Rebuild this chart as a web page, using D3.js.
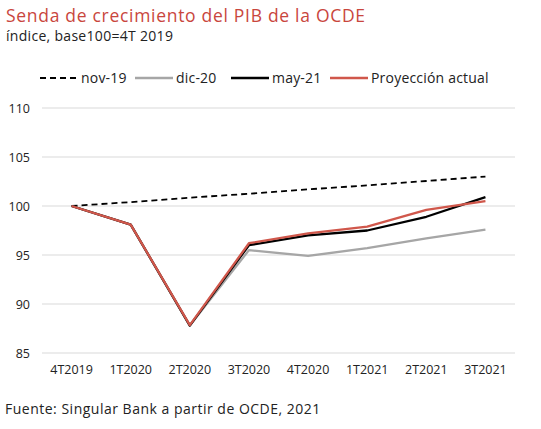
<!DOCTYPE html>
<html><head><meta charset="utf-8">
<script src="https://cdn.jsdelivr.net/npm/d3@7"></script>
<style>body{margin:0;background:#fff;} text{font-family:"Open Sans",sans-serif;}</style>
</head><body>
<svg id="c" width="541" height="429"></svg>
<script>
const categories = ["4T2019","1T2020","2T2020","3T2020","4T2020","1T2021","2T2021","3T2021"];
const nov19 = [100, 100.4, 100.85, 101.25, 101.7, 102.1, 102.55, 103.0];
const dic20 = [100, 98.1, 87.8, 95.5, 94.9, 95.7, 96.7, 97.6];
const may21 = [100, 98.1, 87.8, 96.0, 97.0, 97.5, 98.9, 100.9];
const proyeccion = [100, 98.1, 87.85, 96.2, 97.2, 97.9, 99.6, 100.5];
const yTicks = [85, 90, 95, 100, 105, 110];
const seriesNames = ["nov-19", "dic-20", "may-21", "Proyección actual"];

(function () {
const series = [
  {name: seriesNames[0], values: nov19, color: "#000", dash: "6,4", w: 1.8},
  {name: seriesNames[1], values: dic20, color: "#a6a6a6", dash: null, w: 2.3},
  {name: seriesNames[2], values: may21, color: "#000", dash: null, w: 2.3},
  {name: seriesNames[3], values: proyeccion, color: "#d0574b", dash: null, w: 2.3}
];

const svg = d3.select("#c");
const mLeft = 42, mRight = 515, mTop = 108, mBottom = 353;
const x = d3.scaleBand().domain(categories).range([mLeft, mRight]);
const y = d3.scaleLinear().domain([85, 110]).range([mBottom, mTop]);

svg.append("text").attr("x", 6).attr("y", 22).attr("fill", "#c9463d")
  .style("font-size", "17.5px").style("letter-spacing", "0.7px").text("Senda de crecimiento del PIB de la OCDE");
svg.append("text").attr("x", 6).attr("y", 41).attr("fill", "#222")
  .style("font-size", "14px").style("letter-spacing", "0.3px").text("índice, base100=4T 2019");

svg.append("g").selectAll("line").data(yTicks).join("line")
  .attr("x1", mLeft).attr("x2", mRight).attr("y1", d => y(d)).attr("y2", d => y(d))
  .attr("stroke", "#d9d9d9").attr("stroke-width", 1);

const yAxis = svg.append("g").attr("transform", `translate(${mLeft},0)`)
  .call(d3.axisLeft(y).tickValues(yTicks).tickSize(0).tickPadding(12));
yAxis.select(".domain").remove();
yAxis.selectAll("text").style("font-size", "12.5px").attr("fill", "#222").style("font-family", "'Open Sans', sans-serif");

const xAxis = svg.append("g").attr("transform", `translate(0,${mBottom})`)
  .call(d3.axisBottom(x).tickSize(0).tickPadding(12));
xAxis.select(".domain").remove();
xAxis.selectAll("text").style("font-size", "12.5px").attr("fill", "#222").style("font-family", "'Open Sans', sans-serif");

const line = d3.line().x((d, i) => x(categories[i]) + x.bandwidth() / 2).y(d => y(d));
series.forEach(s => {
  svg.append("path").datum(s.values).attr("d", line).attr("fill", "none")
    .attr("stroke", s.color).attr("stroke-width", s.w)
    .attr("stroke-dasharray", s.dash).attr("stroke-linejoin", "round");
});

const legendX = [40, 135, 231, 330];
const lg = svg.append("g");
series.forEach((s, i) => {
  const g = lg.append("g").attr("transform", `translate(${legendX[i]},78)`);
  g.append("line").attr("x1", 0).attr("x2", 38).attr("y1", 0).attr("y2", 0)
    .attr("stroke", s.color).attr("stroke-width", s.dash ? 1.8 : 2.3).attr("stroke-dasharray", s.dash);
  g.append("text").attr("x", 41).attr("y", 5).style("font-size", "14px").style("letter-spacing", "0.2px").attr("fill", "#222").text(s.name);
});

svg.append("text").attr("x", 5).attr("y", 414).attr("fill", "#222")
  .style("font-size", "14px").style("letter-spacing", "0.5px").text("Fuente: Singular Bank a partir de OCDE, 2021");
})();
</script>
</body></html>
